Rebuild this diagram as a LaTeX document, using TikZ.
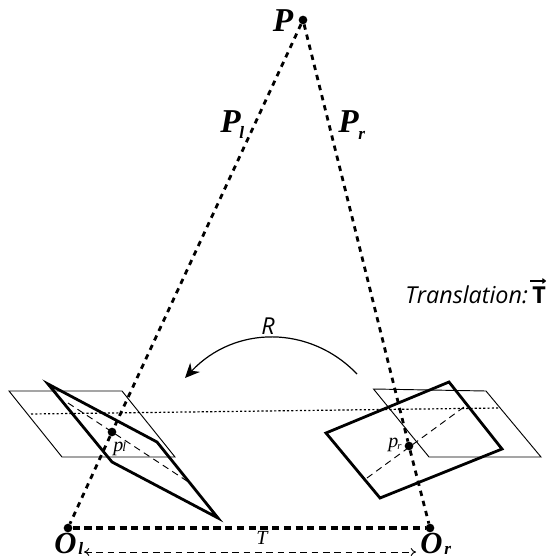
\documentclass[tikz,border=0pt]{standalone}
\usepackage{fontspec}
\setmainfont{Liberation Serif}
\newfontfamily\capfont{Open Sans}
\usetikzlibrary{arrows.meta}
\tikzset{
 x=0.75pt,y=-0.75pt,
 ray/.style={line width=2.1pt,dash pattern=on 4pt off 3.8pt},
 base/.style={line width=2.3pt,dash pattern=on 5.4pt off 3.4pt},
 plane/.style={line width=0.7pt,line join=miter},
 thick plane/.style={line width=2.1pt,line join=miter},
 thin dash/.style={line width=0.7pt,dash pattern=on 5pt off 3.5pt},
 thin dot/.style={line width=0.9pt,dash pattern=on 1.6pt off 1.6pt},
 dotnode/.style={circle,fill=black,inner sep=0pt,minimum size=6.5pt},
 smalldot/.style={circle,fill=black,inner sep=0pt,minimum size=6.5pt},
 bigP/.style={inner sep=0pt,font=\fontsize{25}{27}\selectfont\bfseries\itshape},
 bigO/.style={inner sep=0pt,font=\fontsize{23}{25}\selectfont\bfseries\itshape},
 subl/.style={inner sep=0pt,font=\fontsize{13}{14}\selectfont\bfseries\itshape},
 smalll/.style={inner sep=0pt,font=\fontsize{15}{16}\selectfont\itshape},
 sanslab/.style={inner sep=0pt,font=\capfont\fontsize{17.5}{19}\selectfont\itshape},
}
\begin{document}
\begin{tikzpicture}
\useasboundingbox (0,0) rectangle (550,559);
\fill[white] (0,0) rectangle (550,559);
% points
\node[dotnode] (P) at (303,20) {};
\node[dotnode] (Ol) at (68,528) {};
\node[dotnode] (Or) at (430,528) {};
\node[smalldot] (pl) at (112,432) {};
\node[smalldot] (pr) at (409,446) {};
% rays
\draw[ray] (P) -- (pl);
\draw[ray] (pl) -- (Ol);
\draw[ray] (P) -- (pr);
\draw[ray] (pr) -- (Or);
\draw[base] (Ol) -- (Or);
% image planes
\draw[plane] (9,391) -- (122,391) -- (175,457) -- (62,457) -- cycle;
\draw[plane] (373.5,389) -- (486,391) -- (541,457) -- (429,457) -- cycle;
\draw[thick plane] (48,384) -- (157,442) -- (218,518) -- (112,462) -- cycle;
\draw[thick plane] (326,433) -- (449,382) -- (502,449) -- (380,498) -- cycle;
% epipolar lines
\coordinate (dl1) at (68,403);
\coordinate (dl2) at (190,483);
\coordinate (dr1) at (367,478);
\coordinate (dr2) at (464,407);
\coordinate (h1) at (31,414);
\coordinate (h2) at (500,408);
\draw[thin dash] (dl1) -- (dl2);
\draw[thin dash] (dr1) -- (dr2);
\draw[thin dot] (h1) -- (h2);
% rotation
\coordinate (r1) at (357,374);
\coordinate (r2) at (185,378);
\draw[line width=0.9pt,-{Stealth[length=11pt,width=10pt]}] (r1) .. controls (310,325) and (235,325) .. (r2);
% translation arrow
\coordinate (t1) at (84,552);
\coordinate (t2) at (416,552);
\draw[thin dash,{To[length=4pt,width=6pt]}-{To[length=4pt,width=6pt]}] (t1) -- (t2);
% labels
\node[bigP] (lP) at (283,21) {P};
\node[bigP,anchor=base west] (lPl) at (220,133) {P};
\node[subl,anchor=base west] (lPls) at (239,139) {l};
\node[bigP,anchor=base west] (lPr) at (338,133) {P};
\node[subl,anchor=base west] (lPrs) at (358,140) {r};
\node[bigO,anchor=base west] (lOl) at (54,553) {O};
\node[subl,anchor=base west] (lOls) at (78,554) {l};
\node[bigO,anchor=base west] (lOr) at (420,553) {O};
\node[subl,anchor=base west] (lOrs) at (444,554) {r};
\node[smalll,anchor=base west] (lpl) at (113,451) {p};
\node[inner sep=0pt,font=\fontsize{10}{11}\selectfont\itshape,anchor=base west] (lpls) at (122,451) {l};
\node[smalll,anchor=base west] (lpr) at (388,447) {p};
\node[inner sep=0pt,font=\fontsize{8}{9}\selectfont\itshape,anchor=base west] (lprs) at (397,449) {r};
\node[inner sep=0pt,font=\fontsize{15}{16}\selectfont\itshape] (lT) at (262,538) {T};
\node[sanslab] (lR) at (268,326) {R};
\node[sanslab,anchor=base west] (lTr) at (405,303) {Translation:};
\node[inner sep=0pt,font=\capfont\fontsize{17.5}{19}\selectfont\bfseries,anchor=base west] (lTb) at (532,303) {T};
\coordinate (va) at (530,281);
\coordinate (vb) at (546,281);
\draw[line width=0.9pt,-{To[length=3pt,width=4pt]}] (va) -- (vb);
\end{tikzpicture}
\end{document}
